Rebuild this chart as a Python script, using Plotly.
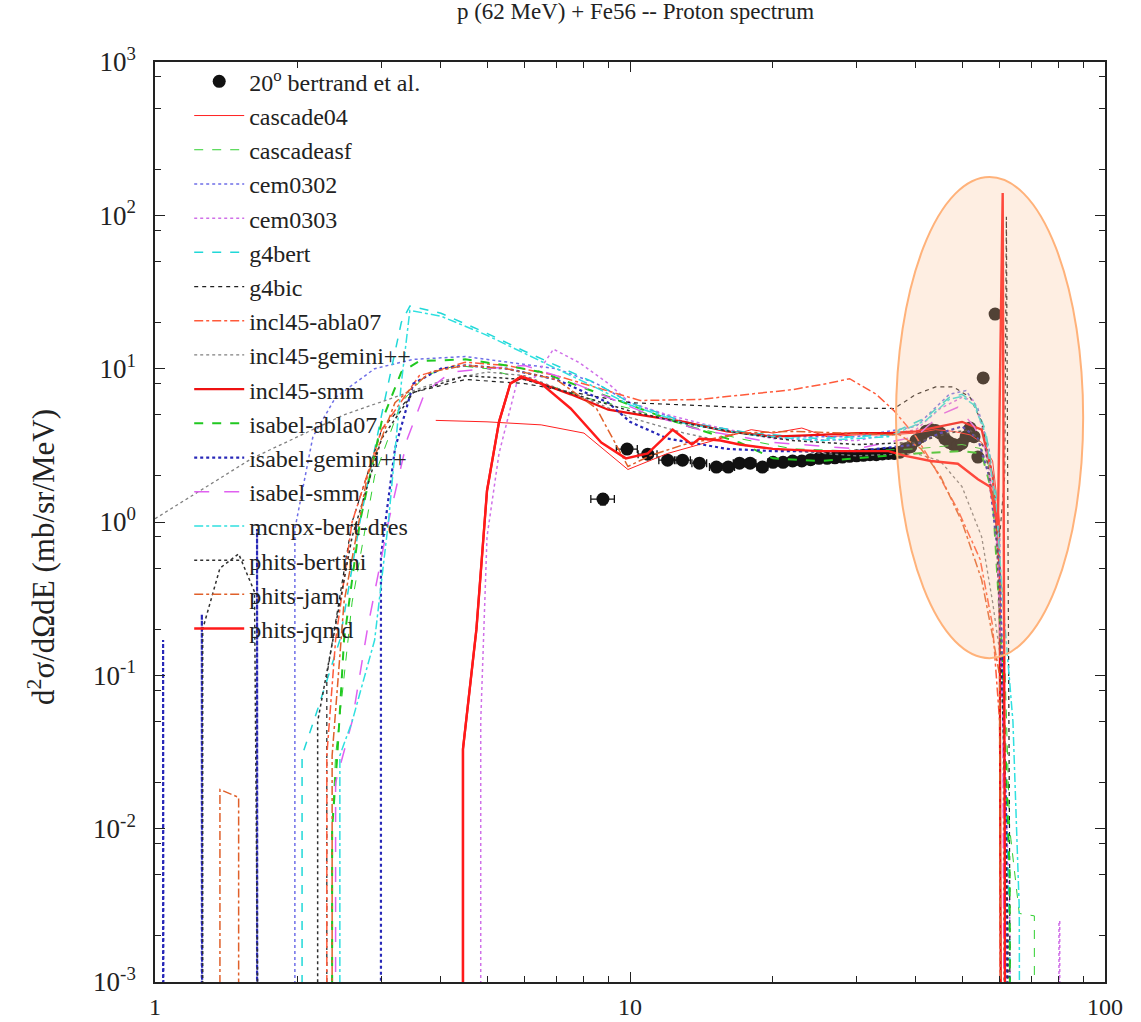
import plotly.graph_objects as go

OFF = 1e-9  # zero-valued bins (drawn down to the bottom of the log axis)

# ---------------- experimental data: 20 deg, Bertrand et al. ----------------
exp_x = [8.77, 9.86, 10.9, 12.0, 12.9, 14.0, 15.2, 16.1, 17.0, 17.9, 19.0, 20.0,
         21, 22, 23, 24, 25, 26, 27, 28, 29, 30, 31, 32, 33, 34, 35, 36, 37, 38, 39,
         40, 41, 42, 43, 44, 45, 46, 47, 48, 49, 50, 51, 52, 53, 54, 55.4, 58.7]
exp_y = [1.41, 2.99, 2.77, 2.53, 2.53, 2.42, 2.28, 2.28, 2.42, 2.42, 2.28, 2.45,
         2.45, 2.5, 2.5, 2.55, 2.6, 2.6, 2.62, 2.65, 2.68, 2.7, 2.72, 2.75, 2.75, 2.78, 2.8, 2.8, 2.85, 3.0, 3.1,
         3.4, 3.6, 3.9, 4.0, 3.95, 3.8, 3.5, 3.3, 3.2, 3.15, 3.25, 3.6, 4.1, 3.6, 2.65, 8.7, 22.7]
exp_dx = [0.5] * len(exp_x)
exp_dy = [0.12] * len(exp_x)

# ---------------- model calculations ----------------
cascade04_x = [3.9, 5, 6.5, 8, 9.9, 12, 15, 18, 20, 23, 26, 30, 35, 40, 44, 48, 52, 55, 58, 60, 61]
cascade04_y = [4.6, 4.5, 4.3, 3.8, 2.2, 2.8, 3.4, 4.0, 3.8, 4.1, 3.6, 3.7, 3.7, 3.8, 4.0, 3.9, 3.7, 3.3, 2.5, 1.0, OFF]

cascadeasf_x = [2.36, 2.36, 2.4, 2.6, 2.9, 3.3, 3.7, 4.3, 5, 6, 7, 8, 10, 13, 17, 22, 30, 40, 50, 55, 58, 61, 63, 66, 71, 71]
cascadeasf_y = [OFF, 0.01, 0.03, 0.3, 2.0, 6, 9, 10.5, 10, 8.5, 7.5, 6.5, 5.5, 4.3, 3.5, 3.0, 2.9, 3.0, 3.2, 3.0, 2.0, 0.3, 0.01, 0.0028, 0.0027, OFF]

cem0302_x = [1.97, 1.97, 2.15, 2.4, 2.9, 3.5, 4.5, 5.5, 7, 8.5, 10, 13, 17, 22, 30, 40, 47, 51, 54, 57, 60, 62, 64]
cem0302_y = [OFF, 0.9, 3.6, 6.5, 10, 11.5, 12, 11, 10, 8, 6, 4.5, 3.8, 3.6, 3.6, 4.2, 6.8, 7.2, 5.5, 3.0, 0.8, 0.01, OFF]

cem0303_x = [4.85, 4.85, 5.0, 5.3, 5.8, 6.3, 6.9, 7.8, 9, 10, 12, 15, 20, 30, 40, 45, 50, 53, 56, 59, 61, 63, 65, 80, 80, 80.3, 80.3]
cem0303_y = [OFF, 0.05, 0.8, 2.8, 8.5, 8.8, 13.4, 11, 8, 6, 5, 4.2, 3.5, 3.4, 4.0, 5.5, 6.5, 6.2, 3.5, 1.0, 0.05, 0.003, OFF, OFF, 0.0025, 0.0025, OFF]

g4bert_x = [2.04, 2.04, 2.2, 2.45, 2.7, 3.0, 3.3, 3.44, 4, 5, 6, 7, 8.5, 10, 13, 18, 25, 35, 42, 47, 50, 53, 56, 59, 61, 63, 64]
g4bert_y = [OFF, 0.03, 0.06, 0.17, 1, 5, 20, 25.6, 23, 17, 13, 10.5, 8, 6, 4.5, 3.8, 3.5, 3.7, 4.8, 6.5, 6.8, 6, 4.0, 1.5, 0.1, 0.002, OFF]

g4bic_x = [2.3, 2.3, 2.6, 3, 3.5, 4.5, 6, 8, 10, 13, 17, 22, 30, 36, 40, 44, 48, 52, 55, 58, 60, 61.5, 62, 62.6, 63, 63.5]
g4bic_y = [OFF, 0.1, 1, 4, 7, 8.5, 8, 6.8, 6.0, 5.8, 5.6, 5.6, 5.5, 5.5, 6.8, 7.6, 7.6, 6.5, 4.5, 2.0, 0.8, 2, 98, 0.05, 0.005, OFF]

incl45_abla07_x = [2.3, 2.3, 2.4, 2.6, 3.0, 3.6, 4.5, 5.5, 7, 8.5, 10.5, 14, 18, 22, 26, 29, 33, 36, 40, 43, 49, 54.6, 58, 60, 61]
incl45_abla07_y = [OFF, 0.03, 0.17, 1.0, 4, 9, 11, 10.5, 9, 7.5, 6.2, 6.3, 6.8, 7.3, 8.0, 8.6, 6.8, 5.3, 3.6, 2.5, 1.2, 0.57, 0.21, 0.05, OFF]

incl45_gemini_x = [1.0, 1.6, 2.5, 4.0, 5.0, 6, 7, 8.5, 10, 13, 17, 22, 30, 40, 45, 50, 55, 58, 61, 62]
incl45_gemini_y = [1.05, 2.6, 5.0, 8.3, 9.5, 9.0, 7.5, 6, 4.8, 3.8, 3.2, 2.9, 2.7, 2.8, 2.5, 1.7, 0.8, 0.3, 0.1, OFF]

incl45_smm_x = [4.45, 4.45, 4.75, 5.0, 5.3, 5.6, 5.9, 6.5, 7.5, 9.0, 10.5, 13, 16, 20, 25, 30, 35, 40, 45, 50, 55, 58, 60, 61]
incl45_smm_y = [OFF, 0.033, 0.2, 1.6, 4.5, 8.0, 8.7, 8.0, 6.8, 5.4, 5.0, 4.5, 3.9, 3.6, 3.7, 3.8, 3.8, 3.9, 4.2, 4.5, 4.0, 2.0, 0.5, OFF]

isabel_abla07_x = [2.36, 2.36, 2.42, 2.5, 2.7, 3.0, 3.3, 3.6, 4.5, 5.5, 6.5, 8, 10, 13, 17, 20, 25, 30, 40, 50, 55, 58, 61, 63, 63.5]
isabel_abla07_y = [OFF, 0.01, 0.03, 0.17, 1.0, 4.5, 9.5, 11.2, 11.5, 10.5, 9.5, 7.5, 5.8, 4.3, 3.3, 2.6, 2.5, 2.6, 2.8, 2.9, 2.8, 1.5, 0.1, 0.005, OFF]

isabel_gemini_x = [1.04, 1.04, 1.045, 1.255, 1.255, 1.26, 1.64, 1.64, 1.645, 2.99, 2.99, 3.2, 3.5, 4.0, 4.5, 5.5, 7, 9, 10, 12, 16, 20, 30, 40, 45, 50, 54, 57, 60, 62, 63]
isabel_gemini_y = [OFF, 0.17, OFF, OFF, 0.25, OFF, OFF, 0.9, OFF, OFF, 0.6, 3, 8, 10, 10.5, 10, 8.5, 6, 4.5, 3.5, 3.0, 2.9, 2.9, 3.2, 3.8, 4.2, 3.5, 2.0, 0.5, 0.01, OFF]

isabel_smm_x = [2.4, 2.4, 2.6, 2.8, 3.1, 3.4, 3.7, 4.2, 5, 6, 7, 9, 11, 14, 20, 30, 40, 45, 49, 53, 56, 59, 61, 62]
isabel_smm_y = [OFF, 0.02, 0.05, 0.2, 1.0, 3.5, 7, 9.5, 10, 10.5, 9, 6.5, 5, 4, 3.3, 3.0, 3.6, 5.0, 5.6, 4.2, 3.0, 1.0, 0.05, OFF]

mcnpx_x = [2.45, 2.45, 2.6, 2.9, 3.1, 3.3, 3.44, 4, 5, 6, 7, 8.5, 10, 13, 18, 25, 35, 42, 47, 50, 53, 56, 59, 61, 64, 66, 66.5]
mcnpx_y = [OFF, 0.03, 0.05, 0.17, 1, 8, 24, 22, 16.5, 12.5, 10, 7.5, 5.8, 4.4, 3.7, 3.4, 3.6, 4.6, 6.3, 6.6, 5.8, 3.8, 1.3, 0.3, 0.05, 0.003, OFF]

phits_bertini_x = [1.26, 1.26, 1.37, 1.5, 1.62, 1.7, 2.2, 2.2, 2.6, 3, 3.5, 4.5, 6, 8, 10, 13, 17, 22, 30, 40, 47, 52, 56, 59, 61, 62.5, 63]
phits_bertini_y = [OFF, 0.2, 0.5, 0.62, 0.35, OFF, OFF, 0.05, 0.8, 3.5, 7, 9, 8.5, 6.5, 5.3, 4.4, 3.8, 3.4, 3.2, 3.3, 3.8, 4.0, 3.0, 1.0, 0.05, 0.002, OFF]

phits_jam_x = [1.37, 1.37, 1.5, 1.5, 2.36, 2.36, 2.5, 2.8, 3.2, 3.8, 4.5, 5.5, 7, 8.5, 9.9, 11, 13, 17, 22, 30, 37, 41, 45, 50, 55, 58, 60, 61]
phits_jam_y = [OFF, 0.018, 0.016, OFF, OFF, 0.03, 0.3, 2, 6, 9.5, 10.5, 10, 8.5, 5.5, 2.3, 2.7, 3.2, 3.8, 3.9, 3.8, 3.7, 3.0, 2.0, 1.0, 0.42, 0.18, 0.1, OFF]

phits_jqmd_x = [4.45, 4.45, 4.75, 5.0, 5.3, 5.6, 5.9, 6.5, 7.5, 8.7, 9.8, 10.9, 12.3, 13.5, 14.0, 15.5, 17, 20, 25, 30, 35, 38, 43, 49, 54, 57.3, 59.5, 60.9, 61.5, 62]
phits_jqmd_y = [OFF, 0.033, 0.2, 1.6, 4.5, 8.0, 8.9, 8.0, 5.5, 3.3, 2.6, 2.8, 4.0, 3.2, 3.5, 3.4, 3.2, 3.0, 2.9, 2.9, 2.9, 2.7, 2.5, 2.4, 1.9, 1.7, 0.95, 140, 0.01, OFF]

# legend name, x, y, colour, dash, width
models = [
    ("cascade04",        cascade04_x,       cascade04_y,       "#ff2020", "solid",   1.0),
    ("cascadeasf",       cascadeasf_x,      cascadeasf_y,      "#30d030", "dash",    1.0),
    ("cem0302",          cem0302_x,         cem0302_y,         "#6f6fe8", "dot",     1.5),
    ("cem0303",          cem0303_x,         cem0303_y,         "#d070e8", "dot",     1.5),
    ("g4bert",           g4bert_x,          g4bert_y,          "#20d8d8", "dash",    1.5),
    ("g4bic",            g4bic_x,           g4bic_y,           "#202020", "4px,4px", 1.2),
    ("incl45-abla07",    incl45_abla07_x,   incl45_abla07_y,   "#ff5a3a", "dashdot", 1.5),
    ("incl45-gemini++",  incl45_gemini_x,   incl45_gemini_y,   "#808080", "3px,3px", 1.3),
    ("incl45-smm",       incl45_smm_x,      incl45_smm_y,      "#ee1111", "solid",   2.2),
    ("isabel-abla07",    isabel_abla07_x,   isabel_abla07_y,   "#20c820", "dash",    2.0),
    ("isabel-gemini++",  isabel_gemini_x,   isabel_gemini_y,   "#2828b8", "dot",     2.2),
    ("isabel-smm",       isabel_smm_x,      isabel_smm_y,      "#e060f0", "longdash", 1.5),
    ("mcnpx-bert-dres",  mcnpx_x,           mcnpx_y,           "#30e0e0", "dashdot", 1.5),
    ("phits-bertini",    phits_bertini_x,   phits_bertini_y,   "#303030", "dot",     1.5),
    ("phits-jam",        phits_jam_x,       phits_jam_y,       "#e0602a", "dashdot", 1.5),
    ("phits-jqmd",       phits_jqmd_x,      phits_jqmd_y,      "#ff1a1a", "solid",   2.4),
]

fig = go.Figure()

fig.add_trace(go.Scatter(
    x=exp_x, y=exp_y, mode="markers", name="20<sup>o</sup> bertrand et al.",
    marker=dict(color="#111111", size=13, symbol="circle"),
    error_x=dict(type="data", array=exp_dx, color="#111111", thickness=1.3, width=4),
    error_y=dict(type="data", array=exp_dy, color="#111111", thickness=1.0, width=3),
))

for name, xs, ys, col, dash, w in models:
    fig.add_trace(go.Scatter(x=xs, y=ys, mode="lines", name=name,
                             line=dict(color=col, dash=dash, width=w)))

serif = "Liberation Serif"

y_tickvals = [1e-3, 1e-2, 1e-1, 1, 10, 100, 1000]
y_ticktext = ["10<sup>-3</sup>", "10<sup>-2</sup>", "10<sup>-1</sup>", "10<sup>0</sup>",
              "10<sup>1</sup>", "10<sup>2</sup>", "10<sup>3</sup>"]
y_minor = [m * 10.0 ** e for e in range(-3, 3) for m in (2, 5, 8)]
x_tickvals = [1, 10, 100]
x_ticktext = ["1", "10", "100"]
x_minor = [m * 10.0 ** e for e in range(0, 2) for m in range(2, 10)]

fig.update_layout(
    width=1141, height=1022,
    margin=dict(l=155, r=36, t=62, b=40, autoexpand=False),
    paper_bgcolor="white", plot_bgcolor="white",
    title=dict(text="p (62 MeV) + Fe56 -- Proton spectrum", x=0.557, xanchor="center",
               y=0.997, yanchor="top", font=dict(family=serif, size=23, color="#222")),
    font=dict(family=serif, color="#222"),
    showlegend=True,
    legend=dict(x=0.036, y=1.003, xanchor="left", yanchor="top",
                bgcolor="rgba(0,0,0,0)", borderwidth=0, itemwidth=50,
                maxheight=900,
                font=dict(family=serif, size=24, color="#222"),
                tracegroupgap=0),
    xaxis=dict(type="log", range=[0, 2], tickvals=x_tickvals, ticktext=x_ticktext,
               ticks="inside", ticklen=10, tickwidth=1.2, tickcolor="#222",
               showline=True, linecolor="#222", linewidth=1.5, mirror="allticks",
               showgrid=False, zeroline=False, ticklabelstandoff=2, automargin=False,
               tickfont=dict(family=serif, size=24, color="#222"),
               minor=dict(tickvals=x_minor, ticks="inside", ticklen=6, tickcolor="#222",
                          showgrid=False)),
    yaxis=dict(type="log", range=[-3, 3], tickvals=y_tickvals, ticktext=y_ticktext,
               ticks="inside", ticklen=10, tickwidth=1.2, tickcolor="#222",
               showline=True, linecolor="#222", linewidth=1.5, mirror="allticks",
               showgrid=False, zeroline=False, ticklabelstandoff=12, automargin=False,
               tickfont=dict(family=serif, size=27, color="#222"),
               minor=dict(tickvals=y_minor, ticks="inside", ticklen=6, tickcolor="#222",
                          showgrid=False)),
    annotations=[dict(text="d<sup>2</sup>σ/dΩdE (mb/sr/MeV)", textangle=-90,
                      xref="paper", yref="paper", x=-0.119, y=0.462,
                      xanchor="center", yanchor="middle",
                      showarrow=False, font=dict(family=serif, size=31, color="#222"))],
    shapes=[dict(type="circle", xref="paper", yref="paper",
                 x0=0.780, x1=0.977, y0=0.352, y1=0.875, layer="above",
                 fillcolor="rgba(250,195,150,0.28)",
                 line=dict(color="#ffb27a", width=2))],
)

fig.write_html("out.html", config={"displayModeBar": False},
               post_script="document.body.style.margin='0';")
